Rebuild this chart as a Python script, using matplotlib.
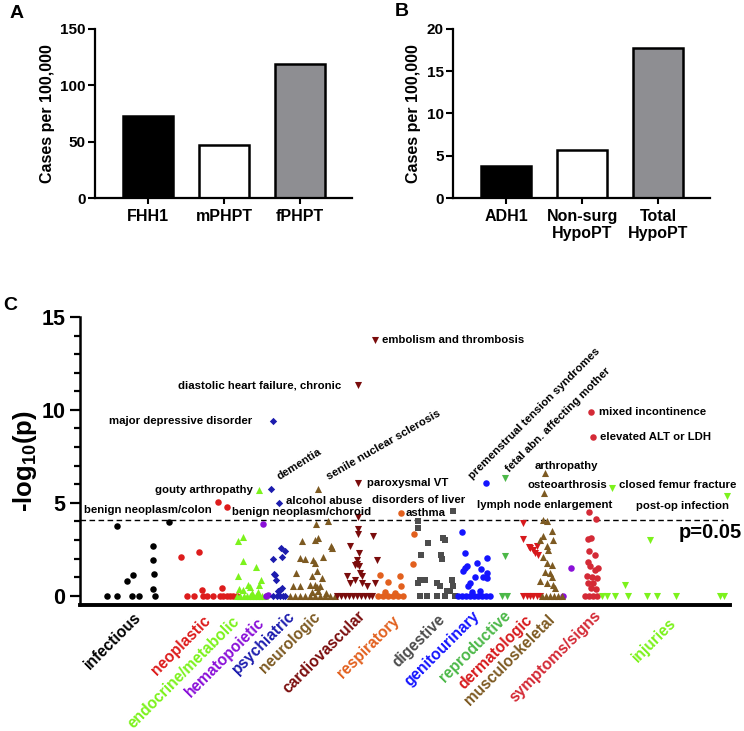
import matplotlib
matplotlib.use("Agg")
import matplotlib.pyplot as plt
import matplotlib.transforms as mtransforms

plt.rcParams['font.family'] = ['Liberation Sans', 'DejaVu Sans']
plt.rcParams['font.weight'] = 'bold'
plt.rcParams['axes.labelweight'] = 'bold'
plt.rcParams['mathtext.fontset'] = 'custom'
plt.rcParams['mathtext.rm'] = 'Liberation Sans:bold'
plt.rcParams['mathtext.it'] = 'Liberation Sans:bold'
plt.rcParams['mathtext.bf'] = 'Liberation Sans:bold'
plt.rcParams['mathtext.default'] = 'rm'

# ---------------- Data ----------------
a_labels = ["FHH1", "mPHPT", "fPHPT"]
a_values = [73, 47, 119]
b_labels = ["ADH1", "Non-surg\nHypoPT", "Total\nHypoPT"]
b_values = [3.8, 5.7, 17.7]
bar_colors = ["#000000", "#ffffff", "#8e8e92"]

# Panel C: position along the phenome axis and -log10(p) per category
infectious_x = [107, 117, 117, 127, 133, 132, 139, 153, 153, 154, 153, 155, 169]
infectious_y = [0, 0, 3.73, 0.77, 1.09, 0, 0, 2.69, 1.94, 1.17, 0.36, 0, 3.98]

neoplastic_x = [218, 227, 181, 199, 187, 194, 203, 202, 207, 213, 220, 222, 223, 227, 230, 233, 237]
neoplastic_y = [5.02, 4.75, 2.08, 2.33, 0, 0, 0, 0.32, 0, 0, 0, 0.39, 0, 0, 0, 0, 0]

endocrine_x = [259, 238, 243, 243, 238, 256, 259, 261, 248, 239, 243, 250, 237, 240, 244, 247,
               250, 253, 256, 259, 262, 265, 252, 258]
endocrine_y = [5.70, 2.92, 3.15, 1.85, 1.04, 1.54, 0.59, 0.82, 0.59, 0.35, 0.3, 0.45, 0, 0, 0, 0,
               0, 0, 0, 0, 0, 0, 0.15, 0.2]

hemato_x = [263, 266, 268, 571, 563]
hemato_y = [3.87, 0, 0.05, 1.49, 0]

psych_x = [273, 271, 279, 273, 281, 285, 282, 274, 276, 275, 280, 282, 278, 273, 277, 280, 283, 285]
psych_y = [9.41, 5.74, 4.98, 1.99, 2.56, 2.38, 2.08, 1.17, 0.86, 1.1, 0.32, 0.4, 0.25, 0, 0, 0, 0, 0]

neuro_x = [318, 316, 328, 302, 315, 318, 331, 332, 300, 305, 323, 313, 315, 296, 317, 312, 322,
           293, 300, 310, 315, 317, 320, 290, 295, 300, 305, 310, 315, 320, 325, 330, 335, 312, 318, 326]
neuro_y = [5.74, 3.87, 4.0, 2.97, 3.01, 3.1, 2.69, 2.55, 2.03, 1.98, 2.11, 1.9, 1.76, 1.22, 1.31, 1.04, 0.95,
           0.5, 0.5, 0.55, 0.6, 0.45, 0.5, 0, 0, 0, 0, 0, 0, 0, 0, 0, 0, 0.2, 0.25, 0.15]

cardio_x = [375, 358, 358, 358, 358, 358, 373, 350, 359, 357, 377, 357, 359, 355, 360, 362, 347, 350,
            355, 362, 367, 375, 337, 341, 345, 349, 353, 357, 361, 365, 369, 372]
cardio_y = [13.76, 11.34, 6.06, 4.26, 3.58, 3.33, 3.23, 2.65, 2.29, 1.94, 1.90, 1.7, 1.6, 1.65, 1.22, 1.08,
            1.04, 0.68, 0.86, 0.68, 0.5, 0.68, 0, 0, 0, 0, 0, 0, 0, 0, 0, 0]

resp_x = [401, 414, 413, 380, 400, 388, 401, 378, 383, 388, 393, 398, 403, 395, 385]
resp_y = [4.45, 3.32, 1.70, 1.13, 1.04, 0.74, 0.54, 0, 0, 0, 0, 0, 0, 0.15, 0.2]

digest_x = [453, 418, 418, 428, 443, 445, 421, 441, 442, 420, 425, 418, 437, 440, 452, 453, 447, 450,
            420, 427, 437, 445, 455]
digest_y = [4.57, 4.00, 3.65, 2.83, 3.10, 3.00, 2.17, 2.20, 1.97, 0.86, 0.86, 0.68, 0.68, 0.5, 0.86, 0.5,
            0.25, 0.25, 0, 0, 0, 0, 0]

genito_x = [486, 462, 465, 487, 477, 481, 487, 465, 463, 467, 475, 483, 487, 470, 468, 458, 462, 466,
            470, 474, 478, 482, 486, 490, 472, 480]
genito_y = [6.06, 3.42, 2.29, 2.03, 1.76, 1.44, 1.22, 1.49, 1.31, 1.6, 1.0, 1.0, 0.95, 0.68, 0.5, 0, 0, 0,
            0, 0, 0, 0, 0, 0, 0.2, 0.25]

repro_x = [505, 505, 502, 507]
repro_y = [6.33, 2.15, 0, 0]

derm_x = [523, 523, 529, 530, 533, 537, 535, 538, 523, 527, 530, 533, 537, 540]
derm_y = [3.91, 3.05, 2.62, 2.55, 2.47, 2.69, 2.29, 2.2, 0, 0, 0, 0, 0, 0]

musc_x = [545, 544, 543, 547, 552, 540, 543, 553, 547, 548, 543, 547, 552, 545, 550, 552, 540, 547, 553,
          555, 542, 546, 550, 554, 558, 562]
musc_y = [6.6, 5.52, 4.09, 4.0, 3.46, 3.0, 3.19, 3.0, 2.65, 2.47, 2.11, 1.76, 1.67, 1.3, 1.2, 1.0, 0.8, 0.7,
          0.6, 0.4, 0, 0, 0, 0, 0, 0]

sympt_x = [591, 593, 589, 596, 588, 591, 589, 595, 588, 590, 598, 595, 587, 592, 597, 588, 593, 591, 596,
           585, 589, 593, 597]
sympt_y = [9.91, 8.56, 4.50, 4.12, 3.05, 3.10, 2.38, 2.20, 1.84, 1.58, 1.49, 1.40, 1.04, 1.0, 0.95, 0.68,
           0.68, 0.4, 0.35, 0, 0, 0, 0]

injury_x = [612, 727, 650, 625, 602, 607, 615, 628, 647, 657, 676, 720, 724]
injury_y = [5.79, 5.34, 3.01, 0.59, 0, 0, 0, 0, 0, 0, 0, 0, 0]

threshold = 4.1

category_names = ["infectious", "neoplastic", "endocrine/metabolic", "hematopoietic", "psychiatric",
                  "neurologic", "cardiovascular", "respiratory", "digestive", "genitourinary",
                  "reproductive", "dermatologic", "musculoskeletal", "symptoms/signs", "injuries"]
category_label_x = [138, 208, 237, 262, 292, 318, 362, 397, 442, 477, 508, 530, 552, 598, 673]
category_label_ypx = [615, 618, 619, 620, 613, 614, 613, 618, 617, 613, 613, 617, 617, 613, 620]

series = [
    (infectious_x, infectious_y, "o", "#000000", 22),
    (neoplastic_x, neoplastic_y, "o", "#dd1c1c", 22),
    (endocrine_x, endocrine_y, "^", "#7cf21c", 26),
    (hemato_x, hemato_y, "o", "#8a10d8", 22),
    (psych_x, psych_y, "D", "#1c1cae", 14),
    (neuro_x, neuro_y, "^", "#7d5a22", 26),
    (cardio_x, cardio_y, "v", "#7a0c0c", 26),
    (resp_x, resp_y, "o", "#e2601e", 22),
    (digest_x, digest_y, "s", "#4d4d4d", 20),
    (genito_x, genito_y, "o", "#1414ff", 22),
    (repro_x, repro_y, "v", "#4cb848", 26),
    (derm_x, derm_y, "v", "#d7191c", 26),
    (musc_x, musc_y, "^", "#7d5a22", 26),
    (sympt_x, sympt_y, "o", "#d42a36", 22),
    (injury_x, injury_y, "v", "#7cf21c", 26),
]
category_colors = ["#000000", "#dd1c1c", "#7cf21c", "#8a10d8", "#1c1cae", "#7d5a22", "#7a0c0c",
                   "#e2601e", "#4d4d4d", "#1414ff", "#4cb848", "#d7191c", "#7d5a22", "#d42a36", "#7cf21c"]

# annotations: text, x, y, ha, rotation
annotations = [
    ("embolism and thrombosis", 382, 13.76, "left", 0),
    ("diastolic heart failure, chronic", 341, 11.30, "right", 0),
    ("major depressive disorder", 252, 9.40, "right", 0),
    ("gouty arthropathy", 253, 5.70, "right", 0),
    ("benign neoplasm/colon", 212, 4.63, "right", 0),
    ("benign neoplasm/choroid", 232, 4.50, "left", 0),
    ("alcohol abuse", 286, 5.08, "left", 0),
    ("dementia", 281, 6.15, "rot", 32),
    ("senile nuclear sclerosis", 330, 6.15, "rot", 30),
    ("paroxysmal VT", 367, 6.06, "left", 0),
    ("disorders of liver", 372, 5.13, "left", 0),
    ("asthma", 406, 4.45, "left", 0),
    ("premenstrual tension syndromes", 474, 6.15, "rot", 45),
    ("fetal abn. affecting mother", 511, 6.55, "rot", 45),
    ("mixed incontinence", 599, 9.91, "left", 0),
    ("elevated ALT or LDH", 600, 8.56, "left", 0),
    ("arthropathy", 535, 7.0, "left", 0),
    ("osteoarthrosis", 528, 5.98, "left", 0),
    ("closed femur fracture", 619, 5.98, "left", 0),
    ("lymph node enlargement", 477, 4.87, "left", 0),
    ("post-op infection", 636, 4.82, "left", 0),
]

# ---------------- Figure ----------------
fig = plt.figure(figsize=(7.44, 7.31), dpi=100)
W, H = 744.0, 731.0


def ax_px(left, top, right, bottom):
    return fig.add_axes([left / W, 1 - bottom / H, (right - left) / W, (bottom - top) / H])


def bar_panel(ax, labels, values, ymax, yticks):
    xs = list(range(len(values)))
    ax.bar(xs, values, width=0.66, color=bar_colors, edgecolor="black", linewidth=1.8)
    ax.set_xlim(-0.70, 2.68)
    ax.set_ylim(0, ymax)
    ax.set_yticks(yticks)
    ax.set_xticks(xs)
    ax.set_xticklabels(labels, fontsize=11.5, fontweight="bold", linespacing=1.15)
    ax.tick_params(axis="y", labelsize=11, width=1.5, length=5, direction="out", pad=1.5)
    ax.tick_params(axis="x", width=1.5, length=4, direction="out", pad=4)
    for s in ["top", "right"]:
        ax.spines[s].set_visible(False)
    for s in ["left", "bottom"]:
        ax.spines[s].set_linewidth(1.6)
    ax.set_ylabel("Cases per 100,000", fontsize=11.5, fontweight="bold", labelpad=4)


axA = ax_px(95, 29, 352, 198)
bar_panel(axA, a_labels, a_values, 150, [0, 50, 100, 150])
axB = ax_px(453, 29, 710, 198)
bar_panel(axB, b_labels, b_values, 20, [0, 5, 10, 15, 20])

fig.text(10 / W, 1 - 14 / H, "A", fontsize=14, fontweight="bold", ha="left", va="center")
fig.text(395 / W, 1 - 12 / H, "B", fontsize=14, fontweight="bold", ha="left", va="center")
fig.text(3 / W, 1 - 305 / H, "C", fontsize=14, fontweight="bold", ha="left", va="center")

# Panel C
axC = ax_px(80, 317, 730, 605)
for xs, ys, m, c, s in series:
    axC.scatter(xs, ys, marker=m, color=c, s=s, linewidths=0, zorder=3, clip_on=False)
axC.set_xlim(80, 730)
axC.set_ylim(-0.5, 15)
axC.axhline(threshold, xmin=0, xmax=(723 - 80) / 650, color="black", lw=1.0, ls=(0, (4, 2.5)), zorder=2)
axC.text(742, 3.4, "p=0.05", fontsize=14.5, fontweight="bold", ha="right", va="center")
axC.set_yticks([0, 5, 10, 15])
axC.set_yticks(range(0, 16), minor=True)
axC.set_xticks([])
axC.tick_params(axis="y", which="major", labelsize=15.5, width=1.6, length=7)
axC.tick_params(axis="y", which="minor", width=1.6, length=4)
for s in ["top", "right"]:
    axC.spines[s].set_visible(False)
axC.spines["left"].set_linewidth(1.8)
axC.spines["bottom"].set_linewidth(2.8)
axC.set_ylabel("-log$_{10}$(p)", fontsize=18.5, fontweight="bold", labelpad=2)

for text, x, y, ha, rot in annotations:
    if ha == "rot":
        axC.text(x, y, text, fontsize=8.2, fontweight="bold", ha="left", va="bottom",
                 rotation=rot, rotation_mode="anchor")
    else:
        axC.text(x, y, text, fontsize=8.2, fontweight="bold", ha=ha, va="center")

trans = mtransforms.blended_transform_factory(axC.transData, axC.transAxes)
for name, xe, ype, col in zip(category_names, category_label_x, category_label_ypx, category_colors):
    axC.text(xe - 5, (605 - (ype - 5)) / 288.0, name, transform=trans, color=col, fontsize=11.2,
             fontweight="bold", rotation=45, rotation_mode="anchor", ha="right", va="top")

fig.savefig("out.png", dpi=100)
